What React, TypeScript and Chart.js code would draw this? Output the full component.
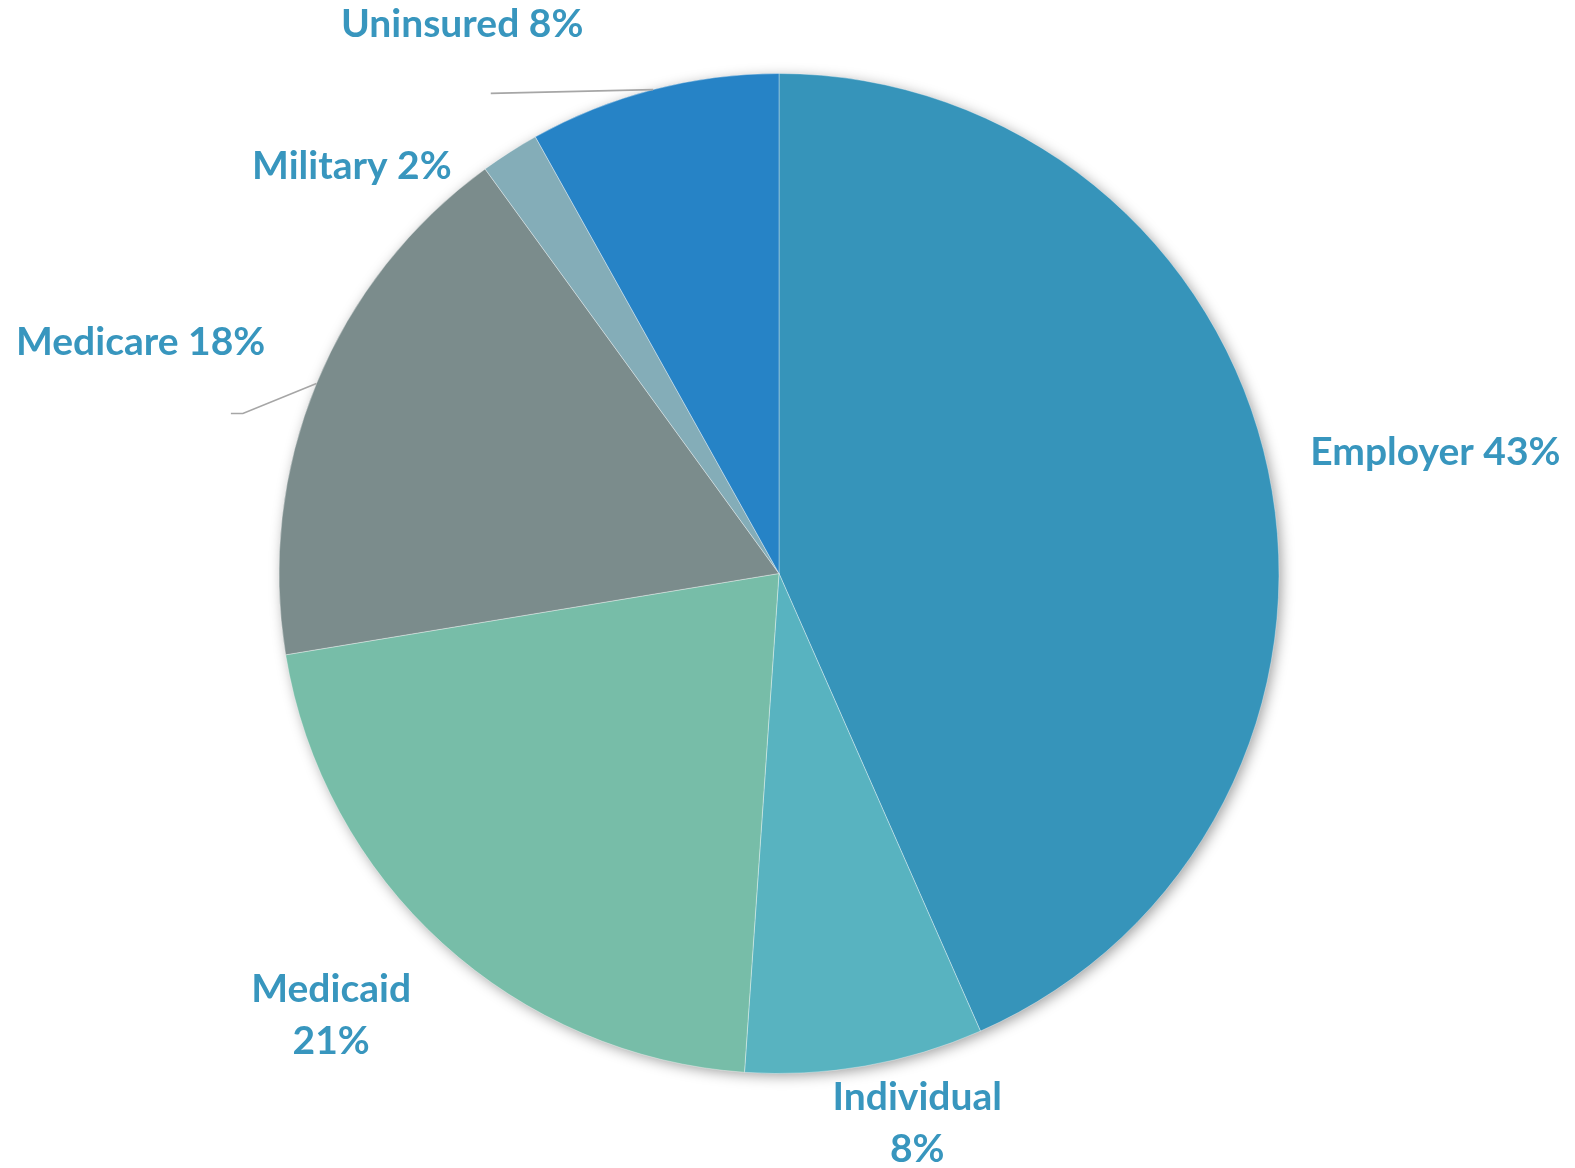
import React, { useEffect, useRef } from "react";
import { Chart, registerables } from "chart.js";

Chart.register(...registerables);

// ---- Data ----
const categories = ["Employer", "Individual", "Medicaid", "Medicare", "Military", "Uninsured"];
const shares = [43.4, 7.7, 21.3, 17.6, 1.9, 8.1];
const percentLabels = ["43%", "8%", "21%", "18%", "2%", "8%"];
const sliceColors = ["#3694BA", "#58B3C0", "#77BDA8", "#7B8C8C", "#84ADB8", "#2683C6"];

// label placement: angular offset (deg) from slice mid-angle, and distance as a ratio of radius
const labelPlacement = [
  { dAngle: 1.4, dist: 1.335, lines: 1 },
  { dAngle: -4.2, dist: 1.135, lines: 2 },
  { dAngle: 3.1, dist: 1.258, lines: 2 },
  { dAngle: -2.4, dist: 1.358, lines: 1 },
  { dAngle: -13.8, dist: 1.18, lines: 1 },
  { dAngle: -15.4, dist: 1.268, lines: 1 },
];
// leader lines: index -> elbow angle offset (deg), elbow radius ratio, horizontal tail length
const leaders: Record<number, { dAngle: number; dist: number; tail: number }> = {
  3: { dAngle: -5.7, dist: 1.119, tail: 12 },
  5: { dAngle: -16.4, dist: 1.12, tail: 0 },
};

const TEXT_COLOR = "#3896BE";
const FONT = "bold 39px Lato, 'Open Sans', sans-serif";

const shadowPlugin = {
  id: "pieShadow",
  beforeDatasetsDraw(chart: any) {
    const arc = chart.getDatasetMeta(0).data[0];
    if (!arc) return;
    const ctx = chart.ctx;
    ctx.save();
    ctx.shadowColor = "rgba(0,0,0,0.4)";
    ctx.shadowBlur = 14;
    ctx.shadowOffsetX = 3;
    ctx.shadowOffsetY = 3;
    ctx.fillStyle = "#ffffff";
    ctx.beginPath();
    ctx.arc(arc.x, arc.y, arc.outerRadius - 1, 0, Math.PI * 2);
    ctx.fill();
    ctx.restore();
  },
};

const labelPlugin = {
  id: "outerLabels",
  afterDatasetsDraw(chart: any) {
    const ctx = chart.ctx;
    const meta = chart.getDatasetMeta(0);
    ctx.save();
    meta.data.forEach((arc: any, i: number) => {
      const mid = (arc.startAngle + arc.endAngle) / 2;
      const r = arc.outerRadius;
      const cx = arc.x;
      const cy = arc.y;
      const ld = leaders[i];
      if (ld) {
        const sx = cx + Math.cos(mid) * r;
        const sy = cy + Math.sin(mid) * r;
        const ea = mid + (ld.dAngle * Math.PI) / 180;
        const ex = cx + Math.cos(ea) * r * ld.dist;
        const ey = cy + Math.sin(ea) * r * ld.dist;
        ctx.strokeStyle = "#A6A6A6";
        ctx.lineWidth = 1.6;
        ctx.beginPath();
        ctx.moveTo(sx, sy);
        ctx.lineTo(ex, ey);
        if (ld.tail) ctx.lineTo(ex - ld.tail, ey);
        ctx.stroke();
      }
      const p = labelPlacement[i];
      const a = mid + (p.dAngle * Math.PI) / 180;
      const lx = cx + Math.cos(a) * r * p.dist;
      const ly = cy + Math.sin(a) * r * p.dist;
      ctx.font = FONT;
      ctx.fillStyle = TEXT_COLOR;
      ctx.textAlign = "center";
      ctx.textBaseline = "middle";
      if (p.lines === 2) {
        ctx.fillText(categories[i], lx, ly - 26);
        ctx.fillText(percentLabels[i], lx, ly + 26);
      } else {
        ctx.fillText(categories[i] + " " + percentLabels[i], lx, ly);
      }
    });
    ctx.restore();
  },
};

export default function App() {
  const ref = useRef<HTMLCanvasElement | null>(null);
  useEffect(() => {
    document.body.style.margin = "0";
    const chart = new Chart(ref.current as HTMLCanvasElement, {
      type: "pie",
      data: {
        labels: categories,
        datasets: [
          {
            data: shares,
            backgroundColor: sliceColors,
            borderColor: "rgba(255,255,255,0.35)",
            borderWidth: 1,
          },
        ],
      },
      options: {
        responsive: false,
        animation: false,
        layout: { padding: { left: 278.5, right: 295.5, top: 73, bottom: 94 } },
        plugins: { legend: { display: false }, tooltip: { enabled: false } },
      },
      plugins: [shadowPlugin, labelPlugin],
    });
    return () => chart.destroy();
  }, []);
  return (
    <div style={{ width: 1575, height: 1168, background: "#fff" }}>
      <canvas ref={ref} width={1575} height={1168} style={{ display: "block" }} />
    </div>
  );
}
